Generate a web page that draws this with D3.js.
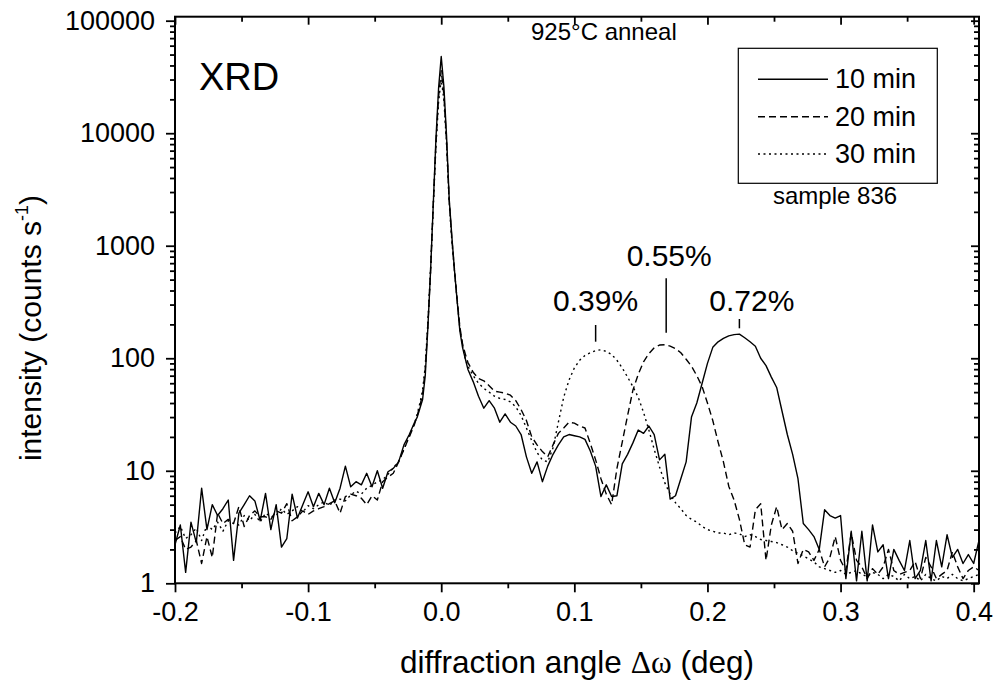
<!DOCTYPE html>
<html><head><meta charset="utf-8">
<script src="https://cdn.jsdelivr.net/npm/d3@7"></script>
<style>
body{margin:0;background:#fff}
svg{display:block}
text{font-family:"Liberation Sans",Arial,Helvetica,sans-serif;fill:#000}
</style>
</head><body>
<svg id="chart" width="994" height="681"></svg>
<script>
// ---------------- DATA ----------------
const angles = [
 -0.200,-0.196,-0.192,-0.188,-0.184,-0.180,-0.176,-0.172,-0.168,-0.164,
 -0.160,-0.156,-0.152,-0.148,-0.144,-0.140,-0.136,-0.132,-0.128,-0.124,
 -0.120,-0.116,-0.112,-0.108,-0.104,-0.100,-0.096,-0.092,-0.088,-0.084,
 -0.080,-0.076,-0.072,-0.068,-0.064,-0.060,-0.056,-0.052,-0.048,-0.044,
 -0.040,-0.036,-0.032,-0.028,-0.024,-0.020,
 -0.018,-0.016,-0.014,-0.012,-0.010,-0.008,-0.006,-0.004,-0.002,0.000,
 0.002,0.004,0.006,0.008,0.010,0.012,0.014,0.016,0.018,
 0.020,0.024,0.028,0.032,0.036,0.040,0.044,0.048,0.052,0.056,
 0.060,0.064,0.068,0.072,0.076,0.080,0.084,0.088,0.092,0.096,
 0.100,0.104,0.108,0.112,0.116,0.120,0.124,0.128,0.132,0.136,
 0.140,0.144,0.148,0.152,0.156,0.160,0.164,0.168,0.172,0.176,
 0.180,0.184,0.188,0.192,0.196,0.200,0.204,0.208,0.212,0.216,
 0.220,0.224,0.228,0.232,0.236,0.240,0.244,0.248,0.252,0.256,
 0.260,0.264,0.268,0.272,0.276,0.280,0.284,0.288,0.292,0.296,
 0.300,0.304,0.308,0.312,0.316,0.320,0.324,0.328,0.332,0.336,
 0.340,0.344,0.348,0.352,0.356,0.360,0.364,0.368,0.372,0.376,
 0.380,0.384,0.388,0.392,0.396,0.400,0.404
];
const intensity10min = [
 2.2,3.3,1.25,3.5,2.3,7.0,3.0,5.0,4.0,4.6,
 5.5,1.6,4.2,5.0,6.0,5.4,3.6,6.3,3.0,5.0,
 2.1,2.5,6.2,3.8,5.0,6.5,4.8,6.3,5.0,7.0,
 5.2,7.0,11,7.2,8.0,7.5,9.5,7.2,10,7.0,
 9.8,10.5,12,17,21,27,
 30,36,43,70,190,600,2300,8800,25000,48000,
 26000,9500,2600,1200,600,320,175,125,100,
 80,62,46,36,42,36,27,32,27,25,
 21,13.3,9.5,12,8.0,11,14,17,20,21,
 20.5,20,19,15,11,5.9,7.5,5.9,6.0,11.5,
 14,17.7,23,21.5,25,21,12.5,14,5.6,6.0,
 8.5,12,30,40,60,90,125,140,150,158,
 162,164,152,140,128,100,86,68,55,34,
 21,14,8.5,3.4,3.0,2.6,2.0,4.5,4.0,3.8,
 4.0,1.1,2.9,1.05,2.9,1.05,3.3,1.9,2.2,1.1,
 2.0,1.6,1.3,2.4,1.1,1.3,2.4,1.05,2.4,1.4,
 2.7,1.7,2.0,1.5,1.8,1.5,2.4
];
const intensity20min = [
 2.4,2.6,2.0,2.1,2.4,1.5,2.6,1.7,4.2,3.4,
 3.7,3.4,4.8,3.2,4.0,4.4,3.9,3.9,3.7,4.4,
 4.2,5.1,3.6,3.9,4.4,4.1,4.4,4.6,4.8,5.1,
 5.4,4.2,5.9,6.2,6.0,5.7,5.0,6.0,5.5,8.0,
 8.8,9.5,12,15.5,20,26,
 31,38,48,80,200,600,2300,8000,21000,36000,
 22000,8500,2500,1150,600,330,190,135,110,
 92,75,66,63,57,51,50,49,47,42,
 35,28,20,17,14.8,13.3,17,21.5,24,27,
 26.5,25,24,17.5,12.5,8.5,6.2,5.0,10.5,18,
 31,52,72,93,110,124,131,132,128,122,
 112,98,85,70,56,40,28,18,12,7.3,
 5.5,3.7,2.2,2.1,4.5,5.1,1.6,3.3,4.8,3.0,
 3.4,2.9,1.5,2.0,1.9,1.6,2.0,1.4,1.7,2.6,
 1.6,1.3,2.8,1.6,1.4,1.1,1.35,1.2,1.4,2.0,
 1.3,1.2,1.25,1.3,1.56,1.1,1.7,1.4,1.1,1.2,
 1.3,1.9,1.4,1.1,1.3,1.4,1.3
];
const intensity30min = [
 2.8,3.2,2.5,2.7,3.1,2.4,3.3,3.0,3.5,2.9,
 3.6,3.4,3.3,4.0,3.6,4.1,3.5,4.2,3.9,4.0,
 4.6,4.1,4.4,4.8,4.3,4.9,4.6,5.0,5.3,4.9,
 5.5,5.6,5.4,6.1,6.6,6.2,7.0,7.4,8.0,8.3,
 9.3,10.6,12.2,15.5,20.5,26.5,
 32,40,52,85,210,620,2200,7500,19000,30000,
 20000,8000,2400,1100,580,320,185,130,100,
 85,70,60,54,50,46,44,43,41,37,
 31,24,18.5,14.5,12.5,12,16,27,45,64,
 82,96,106,112,117,119,115,108,96,82,
 68,56,45,33,23,15.5,10.8,7.8,6.2,5.2,
 4.6,4.0,3.7,3.5,3.2,3.0,2.9,2.8,2.8,2.7,
 2.8,2.75,2.6,2.7,2.6,2.45,2.4,2.35,2.3,2.2,
 2.1,1.95,1.85,1.75,1.65,1.55,1.4,1.35,1.3,1.25,
 1.3,1.2,1.25,1.3,1.2,1.15,1.25,1.2,1.1,1.2,
 1.15,1.05,1.2,1.1,1.15,1.05,1.2,1.1,1.05,1.15,
 1.1,1.2,1.1,1.05,1.1,1.15,1.2
];
const seriesNames = ["10 min","20 min","30 min"];
const xTickValues = [-0.2,-0.1,0.0,0.1,0.2,0.3,0.4];
const xTickLabels = ["-0.2","-0.1","0.0","0.1","0.2","0.3","0.4"];
const xMinorValues = [-0.15,-0.05,0.05,0.15,0.25,0.35];
const yTickValues = [1,10,100,1000,10000,100000];
const yTickLabels = ["1","10","100","1000","10000","100000"];
const peakLabels = ["0.39%","0.55%","0.72%"];
const peakAngles = [0.116,0.169,0.224];

// ---------------- LAYOUT ----------------
const svg = d3.select("#chart");
const L = 175, R = 979, T = 16.7, B = 583.3;
const x = d3.scaleLinear().domain([-0.2, 0.404]).range([L, R]);
const y = d3.scaleLog().domain([1, 108500]).range([B, T]);

const yMinor = [];
for (let e = 0; e < 5; e++) for (let k = 2; k <= 9; k++) yMinor.push(k * Math.pow(10, e));

svg.append("defs").append("clipPath").attr("id","clip")
  .append("rect").attr("x",L).attr("y",T).attr("width",R-L).attr("height",B-T);

function styleAxis(g){
  g.select(".domain").remove();
  g.selectAll(".tick line").attr("stroke","#000").attr("stroke-width",1.8);
  g.selectAll(".tick text").attr("font-size",27).attr("font-family",'"Liberation Sans",Arial,sans-serif').attr("fill","#000");
}

// bottom
svg.append("g").attr("transform",`translate(0,${B})`)
  .call(d3.axisBottom(x).tickValues(xTickValues).tickSize(9).tickPadding(10).tickFormat((d,i)=>xTickLabels[i]))
  .call(styleAxis);
svg.append("g").attr("transform",`translate(0,${B})`)
  .call(d3.axisBottom(x).tickValues(xMinorValues).tickSize(5).tickFormat(""))
  .call(styleAxis);
// top (inward)
svg.append("g").attr("transform",`translate(0,${T})`)
  .call(d3.axisTop(x).tickValues(xTickValues).tickSize(-8).tickFormat(""))
  .call(styleAxis);
svg.append("g").attr("transform",`translate(0,${T})`)
  .call(d3.axisTop(x).tickValues(xMinorValues).tickSize(-5).tickFormat(""))
  .call(styleAxis);
// left
svg.append("g").attr("transform",`translate(${L},0)`)
  .call(d3.axisLeft(y).tickValues(yTickValues).tickSize(9).tickPadding(11).tickFormat((d,i)=>yTickLabels[i]))
  .call(styleAxis);
svg.append("g").attr("transform",`translate(${L},0)`)
  .call(d3.axisLeft(y).tickValues(yMinor).tickSize(5).tickFormat(""))
  .call(styleAxis);
// right (inward)
svg.append("g").attr("transform",`translate(${R},0)`)
  .call(d3.axisRight(y).tickValues(yTickValues).tickSize(-8).tickFormat(""))
  .call(styleAxis);
svg.append("g").attr("transform",`translate(${R},0)`)
  .call(d3.axisRight(y).tickValues(yMinor).tickSize(-5).tickFormat(""))
  .call(styleAxis);

// frame
svg.append("rect").attr("x",L).attr("y",T).attr("width",R-L).attr("height",B-T)
  .attr("fill","none").attr("stroke","#000").attr("stroke-width",2);

// data lines
const allSeries = [intensity10min, intensity20min, intensity30min];
const dashes = [null, "7,4", "2,3.5"];
const line = d3.line().x(d=>x(d[0])).y(d=>y(d[1]));
const plot = svg.append("g").attr("clip-path","url(#clip)");
allSeries.forEach((s,i)=>{
  const n = Math.min(angles.length, s.length);
  const pts = [];
  for (let j=0;j<n;j++) pts.push([angles[j], s[j]]);
  plot.append("path").datum(pts).attr("d",line)
    .attr("fill","none").attr("stroke","#000").attr("stroke-width",1.4)
    .attr("stroke-linejoin","round")
    .attr("stroke-dasharray",dashes[i]);
});

// peak annotations
const annot = [
  {tx:0, tb:310.7, l1:325, l2:341.7},
  {tx:3, tb:265.7, l1:278.3, l2:332.7},
  {tx:12.5, tb:310.7, l1:319, l2:328.3}
];
peakLabels.forEach((lab,i)=>{
  const px = x(peakAngles[i]);
  svg.append("line").attr("x1",px).attr("x2",px).attr("y1",annot[i].l1).attr("y2",annot[i].l2)
    .attr("stroke","#000").attr("stroke-width",1.5);
  svg.append("text").attr("x",px+annot[i].tx).attr("y",annot[i].tb)
    .attr("text-anchor","middle").attr("font-size",30).text(lab);
});

// texts
svg.append("text").attr("x",199).attr("y",90).attr("font-size",38).text("XRD");
svg.append("text").attr("x",531).attr("y",40).attr("font-size",24).text("925°C anneal");
svg.append("text").attr("x",773).attr("y",204).attr("font-size",24).text("sample 836");

// legend
svg.append("rect").attr("x",738.3).attr("y",48.3).attr("width",199).attr("height",135)
  .attr("fill","#fff").attr("stroke","#000").attr("stroke-width",1.2);
const legY = [79.3,116.7,154];
seriesNames.forEach((nm,i)=>{
  svg.append("line").attr("x1",758).attr("x2",828).attr("y1",legY[i]).attr("y2",legY[i])
    .attr("stroke","#000").attr("stroke-width",1.4).attr("stroke-dasharray",dashes[i]);
  svg.append("text").attr("x",835).attr("y",legY[i]+9).attr("font-size",27).text(nm);
});

// axis titles
const xt = svg.append("text").attr("x",(L+R)/2).attr("y",673).attr("text-anchor","middle").attr("font-size",31.5);
xt.append("tspan").text("diffraction angle ");
xt.append("tspan").attr("font-family",'"Liberation Serif","Times New Roman",serif').text("Δω");
xt.append("tspan").text(" (deg)");

const yt = svg.append("text").attr("transform",`translate(41,328) rotate(-90)`)
  .attr("text-anchor","middle").attr("font-size",30);
yt.append("tspan").text("intensity (counts s");
yt.append("tspan").attr("font-size",18).attr("dy",-13).text("-1");
yt.append("tspan").attr("dy",13).text(")");
</script>
</body></html>
